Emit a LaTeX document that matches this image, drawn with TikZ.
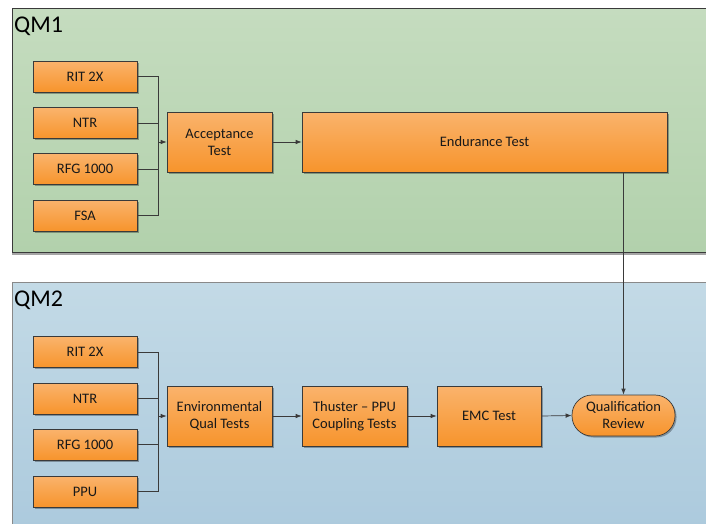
\documentclass[tikz,border=0pt]{standalone}
\usepackage{fontspec}
\setmainfont{Carlito}
\usetikzlibrary{arrows.meta,shadows}
\definecolor{grTop}{HTML}{C5DCBF}
\definecolor{grBot}{HTML}{B2D1AC}
\definecolor{blTop}{HTML}{C3DAE6}
\definecolor{blBot}{HTML}{A9C8DC}
\definecolor{orTop}{HTML}{FAB36C}
\definecolor{orBot}{HTML}{F7942C}
\definecolor{edge}{HTML}{3A3A3A}

\begin{document}
\begin{tikzpicture}[x=1pt,y=-1pt,
    panel/.style={draw=edge, line width=0.8pt, drop shadow={shadow xshift=0pt, shadow yshift=-2.5pt, fill=gray, opacity=0.7}},
    qm/.style={font=\fontsize{24}{28}\selectfont, inner sep=0pt, anchor=base west},
    box/.style={draw=edge, line width=0.7pt, top color=orTop, bottom color=orBot, minimum width=104pt, minimum height=31pt, inner sep=2pt, align=center, text=black!90, font=\fontsize{14.5}{17}\selectfont, drop shadow={shadow xshift=1.5pt, shadow yshift=-1.5pt, fill=black, opacity=0.3}},
    big/.style={box, minimum width=105pt, minimum height=60pt},
    ends/.style={box, minimum width=103pt, minimum height=41pt, rounded corners=20pt},
    link/.style={draw=edge, line width=0.7pt},
    flow/.style={link, -{Latex[length=6pt,width=4.5pt]}}]
    \clip (0,0) rectangle (706,523);
    \fill[white] (0,0) rectangle (706,523);

    % --- QM1 (TOP) ---
    \path[panel, top color=grTop, bottom color=grBot] (12,8) rectangle (730,252);
    \node[qm] (qmA) at (14,32) {QM1};
    \node[box] (ritA) at (85,76.5) {RIT 2X};
    \node[box] (ntrA) at (85,123) {NTR};
    \node[box] (rfgA) at (85,169) {RFG 1000};
    \node[box] (fsaA) at (85,215.5) {FSA};
    \node[big] (acc) at (219.5,142) {Acceptance\\Test};
    \node[box, minimum width=365pt, minimum height=60pt] (endur) at (484.5,142) {Endurance Test};
    \coordinate (jA) at (158,142);
    \foreach \n in {ritA,ntrA,rfgA,fsaA}
        \draw[link] (\n.east) -| (jA);
    \draw[flow] (jA) -- (acc.west);
    \draw[flow] (acc.east) -- (endur.west);

    % --- QM2 (BOTTOM) ---
    \path[panel, draw=edge!60, top color=blTop, bottom color=blBot] (12,282) rectangle (730,560);
    \node[qm] (qmB) at (14,306) {QM2};
    \node[box] (ritB) at (85,352) {RIT 2X};
    \node[box] (ntrB) at (85,398.5) {NTR};
    \node[box] (rfgB) at (85,444.5) {RFG 1000};
    \node[box] (ppuB) at (85,491.5) {PPU};
    \node[big] (env) at (219.5,416) {Environmental\\Qual Tests};
    \node[big] (thu) at (354.5,416) {Thuster -- PPU\\Coupling Tests};
    \node[big, minimum width=104pt] (emc) at (489,416) {EMC Test};
    \node[ends] (qual) at (623.5,415.5) {Qualification\\Review};
    \coordinate (jB) at (158,416);
    \foreach \n in {ritB,ntrB,rfgB,ppuB}
        \draw[link] (\n.east) -| (jB);
    \draw[flow] (jB) -- (env.west);
    \draw[flow] (env.east) -- (thu.west);
    \draw[flow] (thu.east) -- (emc.west);
    \draw[flow] (emc.east) -- (qual.west);
    \draw[flow] (endur.south -| qual.north) -- (qual.north);
\end{tikzpicture}
\end{document}
